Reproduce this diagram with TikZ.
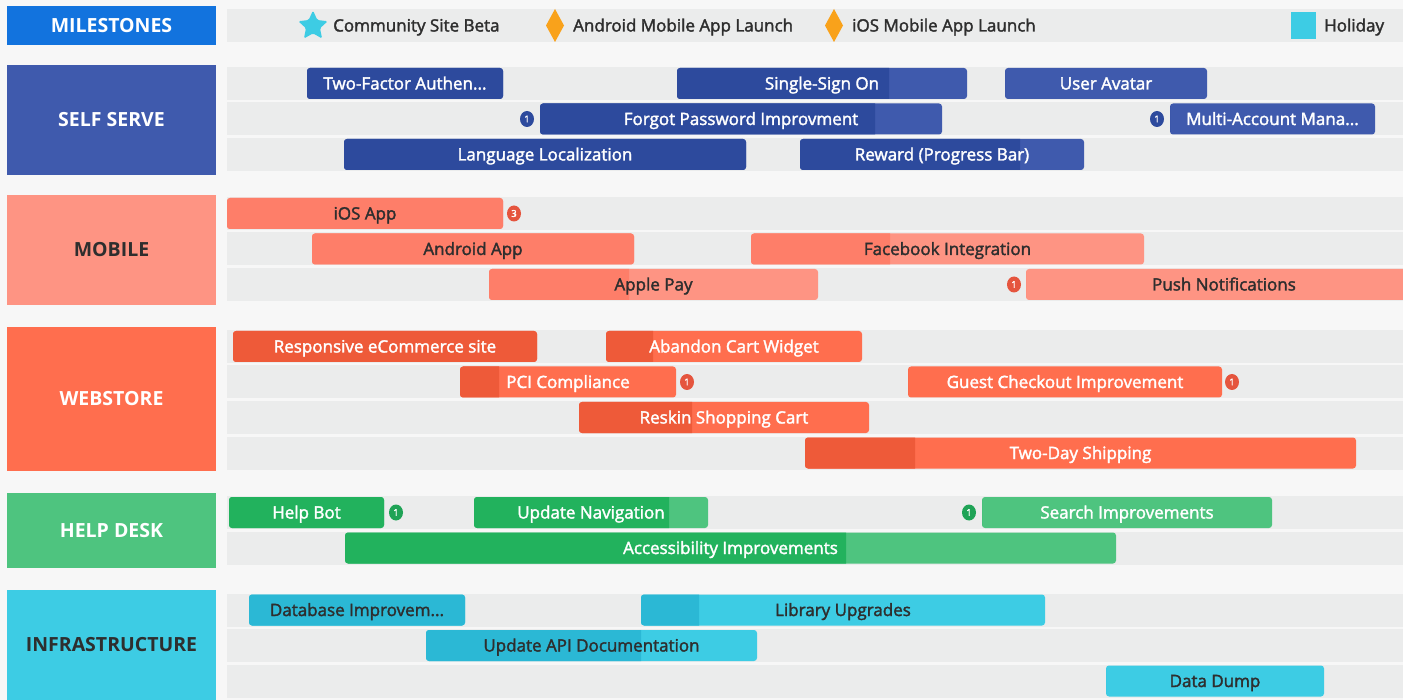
\documentclass[tikz,border=0pt]{standalone}
\usepackage{fontspec}
\setmainfont{Open Sans}
\newfontfamily\semi{Open Sans}[FakeBold=2]
\usetikzlibrary{shapes.geometric}
\definecolor{bgc}{HTML}{F7F7F7}
\definecolor{bandc}{HTML}{EBECEC}
\definecolor{darktext}{HTML}{2E2E2E}
\definecolor{msc}{HTML}{1273DE}
\definecolor{SSd}{HTML}{2D4A9D}
\definecolor{SSl}{HTML}{3F5AAD}
\definecolor{MBd}{HTML}{FE7E69}
\definecolor{MBl}{HTML}{FE9483}
\definecolor{MBb}{HTML}{E5553E}
\definecolor{WSd}{HTML}{EE5A39}
\definecolor{WSl}{HTML}{FF6E4E}
\definecolor{HDd}{HTML}{22B25D}
\definecolor{HDl}{HTML}{4EC47F}
\definecolor{HDb}{HTML}{1FA356}
\definecolor{INd}{HTML}{2BB8D5}
\definecolor{INl}{HTML}{3DCCE4}
\definecolor{starc}{HTML}{3DCCE4}
\definecolor{diac}{HTML}{F9A21B}
\tikzset{
  catbox/.style={rectangle, inner sep=0, outer sep=0, minimum width=209, font=\bfseries\fontsize{19.5}{21}\selectfont},
  barbox/.style={rectangle, rounded corners=3, inner sep=0, outer sep=0, minimum height=31},
  bartext/.style={font=\semi\fontsize{17}{19}\selectfont, inner sep=0, text height=15, text depth=3},
  badge/.style={ellipse, inner sep=0, minimum width=14, minimum height=16, text=white, font=\semi\fontsize{9.5}{10}\selectfont},
  legendtext/.style={anchor=west, inner sep=0, text=darktext, font=\semi\fontsize{17}{19}\selectfont, text height=15, text depth=3},
  bandrow/.style={fill=bandc},
}
% name, x0, x1, xsplit, y, dark, light, textcolor, text
\newcommand\taskbar[9]{%
  \node[barbox, fill=#7, minimum width={#3-#2}, anchor=west] (#1) at (#2,#5) {};
  \begin{scope}
    \clip (#2-2,#5-20) rectangle (#4,#5+20);
    \fill[#6, rounded corners=3] (#1.south west) rectangle (#1.north east);
  \end{scope}
  \node[bartext, text=#8] (#1t) at (#1.center) {#9};
}
\newcommand\bandat[1]{\fill[bandrow] (227,#1-16.5) rectangle (1403,#1+16.5);}
\begin{document}
\begin{tikzpicture}[x=1pt,y=-1pt]
\useasboundingbox (0,0) rectangle (1403,700);
\clip (0,0) rectangle (1403,700);
\fill[bgc] (0,0) rectangle (1403,700);

% bands
\foreach \yy in {25.5, 83.5,119,154.5, 213.5,249,284.5, 346.5,382,417.5,453, 512.5,548, 610,645.5,681} {\bandat{\yy}}

% category blocks
\node[catbox, fill=msc, minimum height=39, text=white] (ms) at (111.5,25.5) {MILESTONES};
\node[catbox, fill=SSl, minimum height=110, text=white] (ss) at (111.5,120) {SELF SERVE};
\node[catbox, fill=MBl, minimum height=110, text=darktext] (mb) at (111.5,250) {MOBILE};
\node[catbox, fill=WSl, minimum height=144, text=white] (ws) at (111.5,399) {WEBSTORE};
\node[catbox, fill=HDl, minimum height=75, text=white] (hd) at (111.5,530.5) {HELP DESK};
\node[catbox, fill=INl, minimum height=110, text=darktext] (inf) at (111.5,645) {INFRASTRUCTURE};

% milestones legend
\node[star, star points=5, star point ratio=2.1, fill=starc, inner sep=0, minimum size=31, rounded corners=1.5] (star1) at (313,26) {};
\node[legendtext] (l1) at (333,25.5) {Community Site Beta};
\fill[diac] (555,9) -- (564,25.5) -- (555,42) -- (546,25.5) -- cycle;
\node[legendtext] (l2) at (573,25.5) {Android Mobile App Launch};
\fill[diac] (834,9) -- (843,25.5) -- (834,42) -- (825,25.5) -- cycle;
\node[legendtext] (l3) at (852,25.5) {iOS Mobile App Launch};
\node[rectangle, fill=starc, inner sep=0, minimum width=25, minimum height=27] (hol) at (1303.5,25.5) {};
\node[legendtext] (l4) at (1324,25.5) {Holiday};

% self serve
\taskbar{tfa}{307}{503}{503}{83.5}{SSd}{SSl}{white}{Two-Factor Authen...}
\taskbar{sso}{677}{967}{889}{83.5}{SSd}{SSl}{white}{Single-Sign On}
\taskbar{ava}{1005}{1207}{1005}{83.5}{SSd}{SSl}{white}{User Avatar}
\taskbar{fpi}{540}{942}{875}{119}{SSd}{SSl}{white}{Forgot Password Improvment}
\taskbar{mam}{1170}{1375}{1170}{119}{SSd}{SSl}{white}{Multi-Account Mana...}
\taskbar{lang}{344}{746}{746}{154.5}{SSd}{SSl}{white}{Language Localization}
\taskbar{rew}{800}{1084}{1020}{154.5}{SSd}{SSl}{white}{Reward (Progress Bar)}
\node[badge, fill=SSd] (b1) at (527,119) {1};
\node[badge, fill=SSd] (b2) at (1157,119) {1};

% mobile
\taskbar{ios}{227}{503}{503}{213.5}{MBd}{MBl}{darktext}{iOS App}
\taskbar{andr}{312}{634}{634}{249}{MBd}{MBl}{darktext}{Android App}
\taskbar{fb}{751}{1144}{890}{249}{MBd}{MBl}{darktext}{Facebook Integration}
\taskbar{ap}{489}{818}{629}{284.5}{MBd}{MBl}{darktext}{Apple Pay}
\taskbar{push}{1026}{1422}{1026}{284.5}{MBd}{MBl}{darktext}{Push Notifications}
\node[badge, fill=MBb] (b3) at (514,213.5) {3};
\node[badge, fill=MBb] (b4) at (1014,284.5) {1};

% webstore
\taskbar{res}{233}{537}{537}{346.5}{WSd}{WSl}{white}{Responsive eCommerce site}
\taskbar{acw}{606}{862}{653}{346.5}{WSd}{WSl}{white}{Abandon Cart Widget}
\taskbar{pci}{460}{676}{499}{382}{WSd}{WSl}{white}{PCI Compliance}
\taskbar{gci}{908}{1222}{908}{382}{WSd}{WSl}{white}{Guest Checkout Improvement}
\taskbar{rsc}{579}{869}{692}{417.5}{WSd}{WSl}{white}{Reskin Shopping Cart}
\taskbar{tds}{805}{1356}{915}{453}{WSd}{WSl}{white}{Two-Day Shipping}
\node[badge, fill=MBb] (b5) at (687,382) {1};
\node[badge, fill=MBb] (b6) at (1232,382) {1};

% help desk
\taskbar{hb}{229}{384}{384}{512.5}{HDd}{HDl}{white}{Help Bot}
\taskbar{un}{474}{708}{669}{512.5}{HDd}{HDl}{white}{Update Navigation}
\taskbar{si}{982}{1272}{982}{512.5}{HDd}{HDl}{white}{Search Improvements}
\taskbar{acc}{345}{1116}{846}{548}{HDd}{HDl}{white}{Accessibility Improvements}
\node[badge, fill=HDb] (b7) at (396,512.5) {1};
\node[badge, fill=HDb] (b8) at (969,512.5) {1};

% infrastructure
\taskbar{db}{249}{465}{465}{610}{INd}{INl}{darktext}{Database Improvem...}
\taskbar{lib}{641}{1045}{699}{610}{INd}{INl}{darktext}{Library Upgrades}
\taskbar{api}{426}{757}{641}{645.5}{INd}{INl}{darktext}{Update API Documentation}
\taskbar{dd}{1106}{1324}{1106}{681}{INd}{INl}{darktext}{Data Dump}
\end{tikzpicture}
\end{document}
